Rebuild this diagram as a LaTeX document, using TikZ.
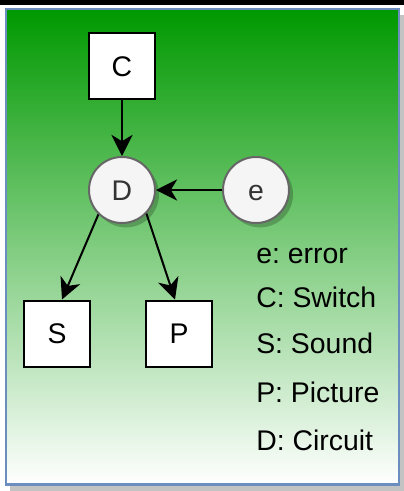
\documentclass[tikz,border=0pt]{standalone}
\usepackage{fontspec}
\setmainfont{Liberation Sans}
\usepackage{xcolor}
\usepackage{tikz}
\usetikzlibrary{arrows.meta,shadows}
\frenchspacing

\definecolor{framegreen}{RGB}{0,153,0}
\definecolor{frameblue}{RGB}{108,142,191}
\definecolor{shadowgray}{RGB}{195,195,195}
\definecolor{nodegray}{RGB}{245,245,245}
\definecolor{rimgray}{RGB}{102,102,102}
\definecolor{textgray}{RGB}{51,51,51}

\tikzset{
  unitbox/.style={draw=black, line width=0.5mm, fill=white, minimum size=16.5mm,
    inner sep=0pt, text height=5.1mm, text depth=0mm},
  unitcircle/.style={circle, draw=rimgray, line width=0.5mm, fill=nodegray, text=textgray,
    minimum size=16.5mm, inner sep=0pt, text height=5.1mm, text depth=0mm,
    drop shadow={shadow xshift=1mm, shadow yshift=-1.1mm, opacity=.22, fill=black}},
  flow/.style={line width=0.5mm, -{Stealth[length=5.3mm, width=5.3mm, inset=1.6mm]}},
  keytext/.style={anchor=base west, inner sep=0pt}
}

\begin{document}
\begin{tikzpicture}[x=0.25mm, y=-0.25mm, font=\fontsize{20.2pt}{24pt}\selectfont]
          \useasboundingbox (0,0) rectangle (404,491);
          % % band, shadow and frame
          \fill[black] (0,0) rectangle (404,5);
          \fill[shadowgray] (10.5,15) rectangle (404,491);
          \draw[frameblue, line width=0.55mm, top color=framegreen, bottom color=white]
            (6.2,9.2) rectangle (398.8,484.5);

          \node[unitbox] (C) at (122,66) {C};
          \node[unitcircle] (D) at (122,190) {D};
          \node[unitcircle] (e) at (256,190) {e};
          \node[unitbox] (S) at (57,333.5) {S};
          \node[unitbox] (P) at (179,333.5) {P};

          % % ARROWS INTO AND OUT OF D
          \draw[flow] (C) -- (D);
          \draw[flow] (e) -- (D);
          \draw[flow] (D.226) -- ([xshift=1.25mm]S.north);
          \draw[flow] (D.316) -- ([xshift=-1mm]P.north);

          \node[keytext] (ke) at (256,263.3) {e: error};
          \node[keytext] (kC) at (256,307.3) {C: Switch};
          \node[keytext] (kS) at (256,353.5) {S: Sound};
          \node[keytext] (kP) at (256,402.3) {P: Picture};
          \node[keytext] (kD) at (256,450) {D: Circuit};
        \end{tikzpicture}
\end{document}
